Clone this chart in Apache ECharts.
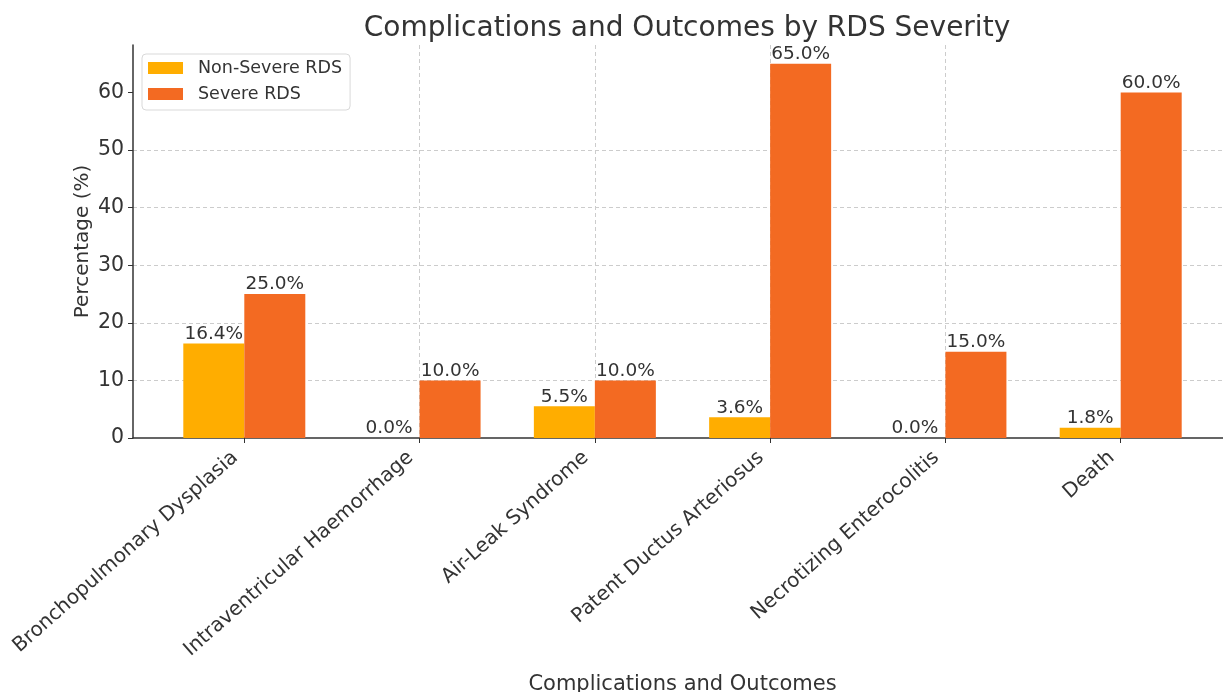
<!DOCTYPE html>
<html>
<head>
<meta charset="utf-8">
<script src="https://cdn.jsdelivr.net/npm/echarts@6/dist/echarts.min.js"></script>
<style>
html,body{margin:0;padding:0;background:#fff;}
#chart{width:1223px;height:692px;}
</style>
</head>
<body>
<div id="chart"></div>
<script>
const categories = ['Bronchopulmonary Dysplasia','Intraventricular Haemorrhage','Air-Leak Syndrome','Patent Ductus Arteriosus','Necrotizing Enterocolitis','Death'];
const nonSevere = [16.4, 0.0, 5.5, 3.6, 0.0, 1.8];
const severe = [25.0, 10.0, 10.0, 65.0, 15.0, 60.0];
const yTicks = [0, 10, 20, 30, 40, 50, 60];
const xTicks = [0, 1, 2, 3, 4, 5];

const FONT = 'DejaVu Sans';
const TXT = '#333333';
const chart = echarts.init(document.getElementById('chart'), null, {renderer:'canvas'});

function toPairs(arr){ return arr.map((v,i)=>[i,v]); }
const labelCfg = {
  show:true, position:'top', distance:0,
  fontFamily:FONT, fontSize:18.5, color:TXT,
  formatter: p => p.value[1].toFixed(1) + '%'
};

chart.setOption({
  animation:false,
  backgroundColor:'#ffffff',
  textStyle:{fontFamily:FONT},
  title:{
    text:'Complications and Outcomes by RDS Severity',
    left:682, textAlign:'center', top:10,
    textStyle:{fontFamily:FONT, fontSize:28, fontWeight:'normal', color:TXT}
  },
  legend:{
    orient:'vertical', left:142, top:54,
    padding:[4,8,6,6], itemGap:6,
    itemWidth:35, itemHeight:12, icon:'rect',
    borderColor:'#d9d9d9', borderWidth:1, borderRadius:4,
    backgroundColor:'rgba(255,255,255,0.8)',
    textStyle:{fontFamily:FONT, fontSize:17.5, color:TXT, lineHeight:20, padding:[0,0,0,10]},
    data:['Non-Severe RDS','Severe RDS']
  },
  grid:{left:133, right:-9, top:45, bottom:254, containLabel:false, outerBoundsMode:'none'},
  xAxis:{
    type:'value', min:-0.635, max:5.635,
    name:'Complications and Outcomes', nameLocation:'middle', nameGap:236, nameMoveOverlap:false,
    nameTextStyle:{fontFamily:FONT, fontSize:21, color:TXT},
    axisLine:{show:true, onZero:false, lineStyle:{color:'#333', width:1.5}},
    axisTick:{show:true, length:5, lineStyle:{color:'#333'}, customValues:xTicks},
    axisLabel:{
      customValues:xTicks, rotate:41.5, margin:9, padding:[0,12,0,0],
      fontFamily:FONT, fontSize:20, color:TXT,
      formatter: v => categories[Math.round(v)] || ''
    },
    splitLine:{show:true, showMinLine:false, showMaxLine:false, lineStyle:{color:'#cccccc', type:[4,3], width:1}}
  },
  yAxis:{
    type:'value', min:0, max:68.25,
    name:'Percentage (%)', nameLocation:'middle', nameGap:40, nameMoveOverlap:false,
    nameTextStyle:{fontFamily:FONT, fontSize:20, color:TXT},
    axisLine:{show:true, onZero:false, lineStyle:{color:'#333', width:1.5}},
    axisTick:{show:true, length:5, lineStyle:{color:'#333'}, customValues:yTicks},
    axisLabel:{customValues:yTicks, margin:9, fontFamily:FONT, fontSize:20.5, color:TXT},
    splitLine:{show:true, showMinLine:false, showMaxLine:false, lineStyle:{color:'#cccccc', type:[4,3], width:1}}
  },
  series:[
    {name:'Non-Severe RDS', type:'bar', data:toPairs(nonSevere), barWidth:61, barGap:'0%',
     itemStyle:{color:'#FFAD00'}, label:labelCfg},
    {name:'Severe RDS', type:'bar', data:toPairs(severe), barWidth:61, barGap:'0%',
     itemStyle:{color:'#F36A22'}, label:labelCfg}
  ]
});
</script>
</body>
</html>
